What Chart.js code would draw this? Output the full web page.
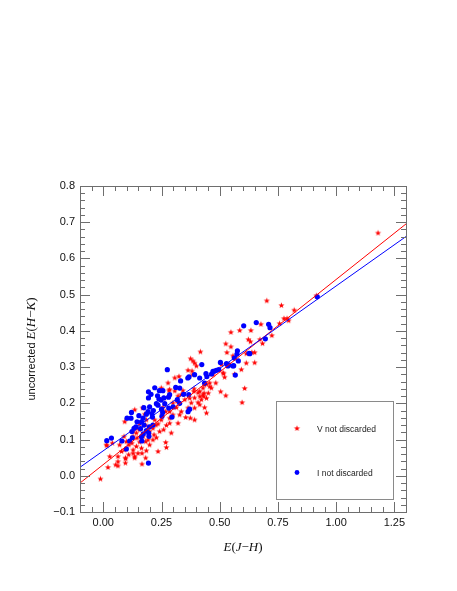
<!DOCTYPE html>
<html><head><meta charset="utf-8">
<script src="https://cdn.jsdelivr.net/npm/chart.js@4/dist/chart.umd.min.js"></script>
<style>html,body{margin:0;padding:0;background:#fff;}canvas{display:block;}</style>
</head><body>
<canvas id="c" width="457" height="591"></canvas>
<script>
// ---- data ----
const seriesLabels = ['V not discarded', 'I not discarded'];
const vNotDiscardedX = [1.180,0.915,0.702,0.765,0.820,0.776,0.789,0.796,0.757,
0.548,0.586,0.634,0.677,0.724,0.623,0.632,0.526,0.548,0.673,0.684,
0.531,0.417,0.375,0.400,0.364,0.381,0.507,0.514,0.521,0.564,
0.638,0.650,0.614,0.650,0.614,0.593,0.557,0.607,0.596,0.526,0.504,0.483,0.471,0.443,0.457,0.433,0.415,
0.392,0.384,0.517,
0.464,0.451,0.431,0.407,0.392,0.374,0.354,0.328,0.321,0.292,0.285,0.282,0.249,0.261,0.299,0.314,0.256,0.268,0.249,0.235,0.271,0.259,0.242,0.218,0.228,0.199,0.181,0.156,0.156,0.142,0.128,0.145,0.156,0.182,0.199,0.164,0.142,0.128,0.123,0.110,0.099,0.089,0.092,0.078,0.109,0.128,0.166,0.185,0.135,0.096,0.063,0.053,0.020,0.166,0.235,0.271,0.268,0.013,0.039,0.092,0.135,0.168,0.178,0.252,0.371,0.350,0.317,0.335,0.342,0.389,0.414,0.428,0.435,0.457,0.421,0.443,0.325,
0.390,0.407,0.428,0.392,0.378,0.435,0.321,0.285,0.307,
-0.012,0.028,0.016,0.063,0.095,0.095,0.135,0.182,0.070,0.443,
0.213,0.226,0.185,0.221,0.285,0.299,0.335,0.364,0.392,0.414,0.285,0.142,0.128,0.171,0.192,0.213,0.149,0.063,
0.307,0.278,0.385];
const vNotDiscardedY = [0.670,0.497,0.483,0.470,0.457,0.434,0.434,0.428,0.420,
0.396,0.401,0.401,0.418,0.387,0.376,0.370,0.364,0.356,0.376,0.365,
0.340,0.342,0.323,0.303,0.291,0.289,0.307,0.284,0.272,0.280,
0.340,0.340,0.337,0.312,0.311,0.293,0.331,0.241,0.202,0.221,0.232,0.256,0.279,0.253,0.246,0.228,0.219,
0.311,0.279,0.282,
0.242,0.228,0.219,0.202,0.154,0.159,0.161,0.168,0.145,0.118,0.159,0.235,0.242,0.214,0.201,0.188,0.188,0.177,0.154,0.143,0.139,0.127,0.122,0.113,0.105,0.122,0.140,0.143,0.127,0.118,0.108,0.104,0.093,0.094,0.085,0.076,0.081,0.071,0.090,0.085,0.094,0.108,0.071,0.067,0.058,0.062,0.062,0.069,0.053,0.047,0.039,0.030,0.023,0.032,0.067,0.078,0.092,0.085,0.090,0.149,0.182,0.187,0.170,0.168,0.214,0.210,0.205,0.224,0.235,0.233,0.233,0.242,0.251,0.256,0.210,0.214,0.274,
0.240,0.229,0.224,0.215,0.201,0.188,0.220,0.238,0.234,
-0.009,0.053,0.083,0.027,0.035,0.049,0.049,0.049,0.085,0.173,
0.131,0.140,0.154,0.154,0.177,0.168,0.177,0.187,0.187,0.196,0.145,0.131,0.122,0.108,0.099,0.099,0.062,0.053,
0.270,0.256,0.317];
const iNotDiscardedX = [0.015,0.035,0.080,0.099,0.102,0.119,0.113,0.121,0.125,0.123,0.132,0.145,0.153,0.164,0.164,0.166,0.171,0.172,0.174,0.185,0.192,0.194,0.194,0.195,0.196,0.198,0.199,0.209,0.211,0.213,0.194,0.221,0.228,0.233,0.239,0.241,0.248,0.250,0.252,0.256,0.264,0.275,0.280,0.281,0.285,0.295,0.311,0.328,0.328,0.332,0.363,0.368,0.364,0.371,0.367,0.392,0.414,0.423,0.435,0.441,0.445,0.465,0.471,0.478,0.486,0.496,0.503,0.529,0.535,0.540,0.557,0.560,0.563,0.567,0.576,0.574,0.580,0.603,0.626,0.629,0.657,0.696,0.710,0.716,0.919,
0.205,0.215,0.235,0.260,0.255,0.175,0.185,0.160,0.140,0.300,0.345,0.318];
const iNotDiscardedY = [0.097,0.104,0.096,0.074,0.159,0.159,0.096,0.175,0.105,0.122,0.131,0.149,0.166,0.149,0.108,0.096,0.159,0.116,0.188,0.170,0.177,0.232,0.215,0.118,0.109,0.135,0.190,0.171,0.162,0.140,0.035,0.243,0.199,0.221,0.212,0.235,0.209,0.184,0.164,0.235,0.199,0.293,0.217,0.187,0.224,0.162,0.244,0.242,0.200,0.262,0.270,0.273,0.177,0.184,0.224,0.279,0.270,0.307,0.256,0.282,0.274,0.281,0.288,0.289,0.291,0.293,0.313,0.310,0.303,0.306,0.303,0.304,0.325,0.278,0.345,0.336,0.317,0.414,0.338,0.337,0.423,0.378,0.418,0.409,0.494,
0.225,0.180,0.195,0.215,0.175,0.140,0.125,0.130,0.135,0.190,0.225,0.210];
const fitSlopes = [0.511, 0.455];
const fitIntercepts = [0.031, 0.069];
const xTickValues = [0, 0.25, 0.5, 0.75, 1.0, 1.25];
const yTickValues = [-0.1, 0, 0.1, 0.2, 0.3, 0.4, 0.5, 0.6, 0.7, 0.8];
const xRange = [-0.1, 1.3];
const yRange = [-0.1, 0.8];

// ---- styles ----
const RED = '#ff0000', BLUE = '#0000ff', FRAME = '#6e6e6e';
function makeStar(color, R, r) {
  const size = Math.ceil(R * 2) + 2;
  const c = document.createElement('canvas'); c.width = c.height = size;
  const g = c.getContext('2d'); g.fillStyle = color; g.beginPath();
  const cx = size / 2, cy = size / 2;
  for (let k = 0; k < 10; k++) {
    const a = -Math.PI / 2 + k * Math.PI / 5, rad = (k % 2) ? r : R;
    const px = cx + rad * Math.cos(a), py = cy + rad * Math.sin(a);
    if (k) g.lineTo(px, py); else g.moveTo(px, py);
  }
  g.closePath(); g.fill(); return c;
}
const starImg = makeStar(RED, 3.2, 1.3);

const zip = (xs, ys) => xs.map((x, i) => ({x: x, y: ys[i]}));
const fitData = k => xRange.map(x => ({x: x, y: fitIntercepts[k] + fitSlopes[k] * x}));

const framePlugin = {
  id: 'frame',
  afterDraw(chart) {
    const ctx = chart.ctx, a = chart.chartArea, xs = chart.scales.x, ys = chart.scales.y;
    ctx.save();
    ctx.strokeStyle = FRAME; ctx.lineWidth = 1;
    ctx.strokeRect(Math.round(a.left) + 0.5, Math.round(a.top) + 0.5, Math.round(a.right - a.left), Math.round(a.bottom - a.top));
    ctx.beginPath();
    const isMajor = (v, arr) => arr.some(t => Math.abs(t - v) < 1e-6);
    for (let i = 0; ; i++) {
      const v = xRange[0] + i * 0.05; if (v > xRange[1] + 1e-9) break;
      const px = Math.round(xs.getPixelForValue(v)) + 0.5, L = isMajor(v, xTickValues) ? 10 : 5;
      ctx.moveTo(px, a.bottom); ctx.lineTo(px, a.bottom - L);
      ctx.moveTo(px, a.top); ctx.lineTo(px, a.top + L);
    }
    for (let i = 0; ; i++) {
      const v = yRange[0] + i * 0.02; if (v > yRange[1] + 1e-9) break;
      const py = Math.round(ys.getPixelForValue(v)) + 0.5, L = isMajor(v, yTickValues) ? 10 : 5;
      ctx.moveTo(a.left, py); ctx.lineTo(a.left + L, py);
      ctx.moveTo(a.right, py); ctx.lineTo(a.right - L, py);
    }
    ctx.stroke();

    // axis titles (mixed fonts)
    const serifI = 'italic 13px "Liberation Serif", "DejaVu Serif", serif';
    const serif = '13px "Liberation Serif", "DejaVu Serif", serif';
    const sans = '11px "Liberation Sans", Arial, sans-serif';
    function drawParts(parts, cx, cy) {
      let w = 0; parts.forEach(p => { ctx.font = p[1]; w += ctx.measureText(p[0]).width; });
      let x = cx - w / 2;
      parts.forEach(p => { ctx.font = p[1]; ctx.fillText(p[0], x, cy); x += ctx.measureText(p[0]).width; });
    }
    ctx.fillStyle = '#111'; ctx.textBaseline = 'alphabetic'; ctx.textAlign = 'left';
    drawParts([['E', serifI], ['(', serif], ['J', serifI], ['\u2212', serif], ['H', serifI], [')', serif]], (a.left + a.right) / 2, 551);
    ctx.save();
    ctx.translate(35, (a.top + a.bottom) / 2); ctx.rotate(-Math.PI / 2);
    drawParts([['uncorrected ', sans], ['E', serifI], ['(', serif], ['H', serifI], ['\u2212', serif], ['K', serifI], [')', serif]], 0, 0);
    ctx.restore();

    // legend box
    ctx.strokeStyle = '#8a8a8a';
    ctx.strokeRect(276.5, 401.5, 117, 98);
    const ds = chart.data.datasets;
    ctx.drawImage(ds[0].pointStyle, 297 - ds[0].pointStyle.width / 2, 428.5 - ds[0].pointStyle.height / 2);
    ctx.fillStyle = ds[1].backgroundColor;
    ctx.beginPath(); ctx.arc(297, 472.5, 2.4, 0, Math.PI * 2); ctx.fill();
    ctx.fillStyle = '#222'; ctx.font = '8.5px "Liberation Sans", Arial, sans-serif';
    ctx.fillText(ds[0].label, 317, 431.5);
    ctx.fillText(ds[1].label, 317, 475.5);
    ctx.restore();
  }
};

const tickFont = {family: '"Liberation Sans", Arial, sans-serif', size: 11};
new Chart(document.getElementById('c'), {
  type: 'scatter',
  data: {
    datasets: [
      {label: seriesLabels[0], data: zip(vNotDiscardedX, vNotDiscardedY), pointStyle: starImg, pointRadius: 3, backgroundColor: RED, borderColor: RED, order: 3},
      {label: seriesLabels[1], data: zip(iNotDiscardedX, iNotDiscardedY), pointStyle: 'circle', pointRadius: 2.6, borderWidth: 0, backgroundColor: BLUE, borderColor: BLUE, order: 2},
      {label: 'V fit', data: fitData(0), showLine: true, pointRadius: 0, borderColor: RED, borderWidth: 1, order: 1},
      {label: 'I fit', data: fitData(1), showLine: true, pointRadius: 0, borderColor: BLUE, borderWidth: 1, order: 0}
    ]
  },
  options: {
    responsive: false, animation: false, devicePixelRatio: 1,
    layout: {padding: {top: 186, right: 51, left: 0, bottom: 0}},
    plugins: {legend: {display: false}, tooltip: {enabled: false}},
    scales: {
      x: {
        type: 'linear', min: xRange[0], max: xRange[1],
        grid: {display: false, drawTicks: false}, border: {display: false},
        afterBuildTicks: s => { s.ticks = xTickValues.map(v => ({value: v})); },
        afterFit: s => { s.height = 79; },
        ticks: {font: tickFont, color: '#111', padding: 4, maxRotation: 0, autoSkip: false,
          callback: v => Number(v).toFixed(2)}
      },
      y: {
        type: 'linear', min: yRange[0], max: yRange[1],
        grid: {display: false, drawTicks: false}, border: {display: false},
        afterBuildTicks: s => { s.ticks = yTickValues.map(v => ({value: v})); },
        afterFit: s => { s.width = 80; },
        ticks: {font: tickFont, color: '#111', padding: 5, autoSkip: false,
          callback: v => Number(v).toFixed(1).replace('-', '\u2212')}
      }
    }
  },
  plugins: [framePlugin]
});
</script>
</body></html>
